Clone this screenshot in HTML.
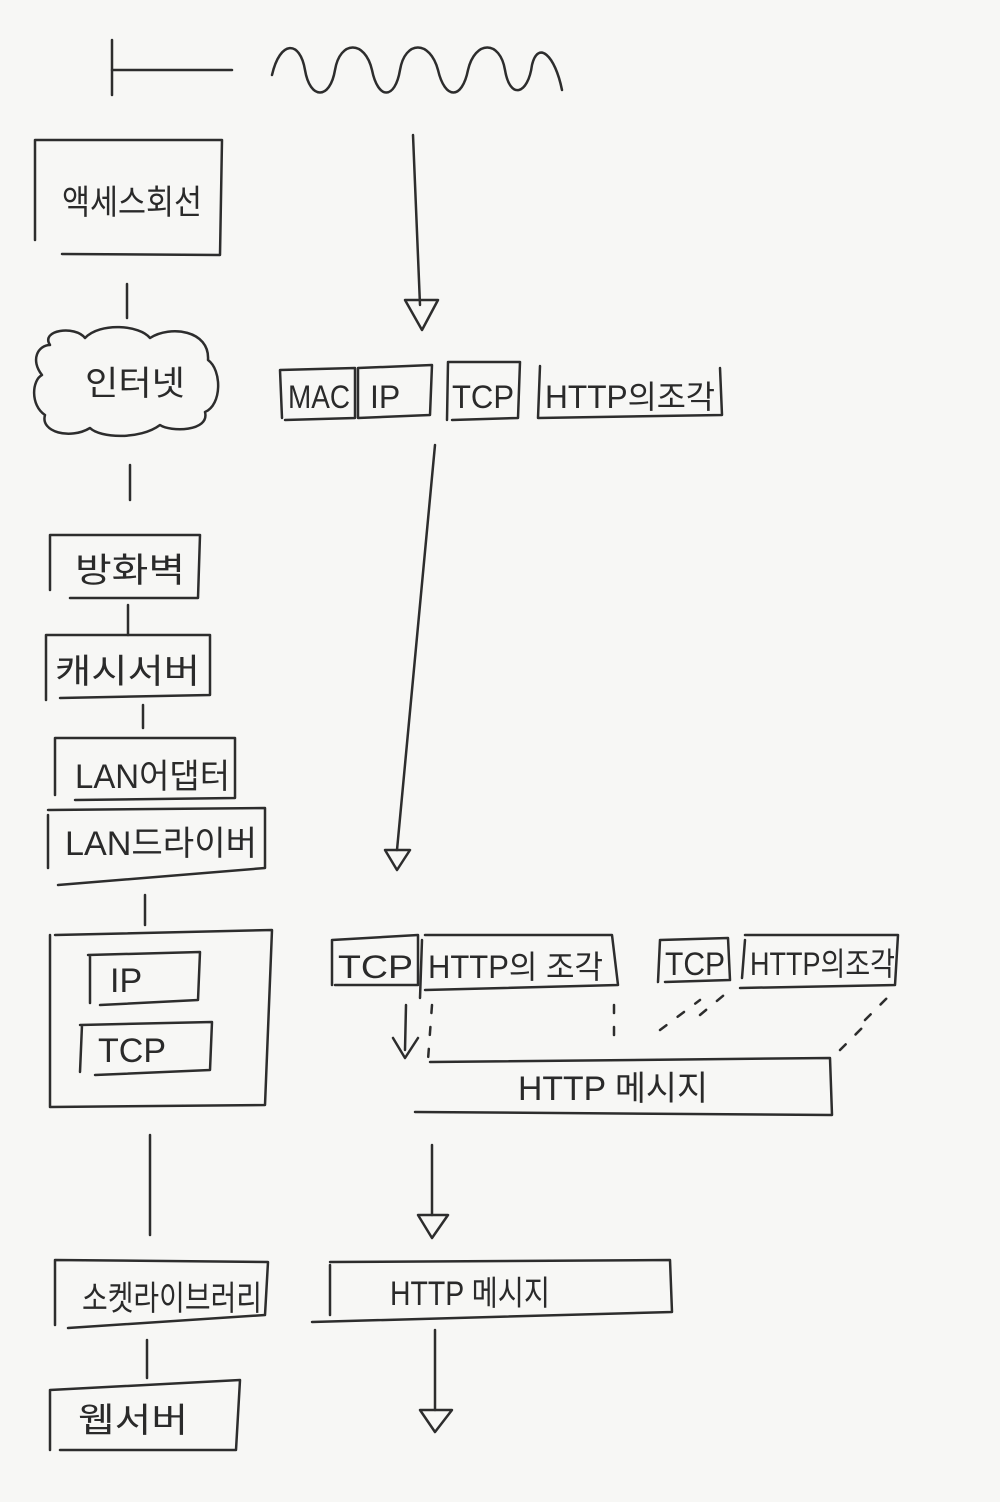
<!DOCTYPE html>
<html><head><meta charset="utf-8"><style>
html,body{margin:0;padding:0;background:#f7f7f5;}
svg{display:block}
text{font-family:"Liberation Sans","Noto Sans CJK KR",sans-serif;fill:#2a2a2a;}
</style></head><body>
<svg width="1000" height="1502" viewBox="0 0 1000 1502" xmlns="http://www.w3.org/2000/svg">
<rect width="1000" height="1502" fill="#f7f7f5"/>
<g stroke="#2d2d2d" stroke-width="2.5" fill="none" stroke-linecap="round" stroke-linejoin="round">
<line x1="112" y1="40" x2="112" y2="95"/>
<line x1="112" y1="70" x2="232" y2="70"/>
<path d="M272 75 C280 40,300 40,305 70 C310 100,330 100,335 70 C340 40,365 40,372 70 C378 100,395 100,400 70 C405 40,430 40,438 70 C445 100,462 100,468 70 C475 40,500 40,505 70 C510 100,528 95,532 65 C538 40,555 55,562 90"/>
<path d="M35 140 L35 240 M35 140 L222 140 L220 255 L62 254"/>
<line x1="127" y1="284" x2="127" y2="318"/>
<path d="M50 345 C40 330,75 325,85 338 C100 322,140 325,150 338 C170 325,210 330,208 360 C222 370,222 405,205 412 C210 432,170 432,160 425 C140 440,100 438,90 428 C70 440,40 432,45 415 C30 405,32 380,42 375 C30 360,38 345,50 345 Z"/>
<line x1="130" y1="465" x2="130" y2="500"/>
<path d="M50 535 L50 590 M50 535 L200 535 L198 598 L70 598"/>
<line x1="128" y1="605" x2="128" y2="635"/>
<path d="M46 635 L46 700 M46 635 L210 635 L210 695 L60 698"/>
<line x1="143" y1="705" x2="143" y2="728"/>
<path d="M55 738 L55 795 M55 738 L235 738 L235 798 L75 800"/>
<path d="M48 815 L48 868 M48 810 L265 808 L265 868 L58 885"/>
<line x1="145" y1="895" x2="145" y2="925"/>
<path d="M50 935 L50 1107 L265 1105 L272 930 L55 935"/>
<path d="M90 955 L90 1003 M88 955 L200 952 L198 1000 L100 1005"/>
<path d="M82 1025 L80 1072 M80 1025 L212 1022 L210 1070 L95 1075"/>
<line x1="150" y1="1135" x2="150" y2="1235"/>
<path d="M55 1260 L55 1325 M55 1260 L268 1262 L265 1315 L68 1328"/>
<line x1="147" y1="1340" x2="147" y2="1378"/>
<path d="M50 1390 L50 1450 M50 1390 L240 1380 L236 1450 L60 1450"/>
<line x1="413" y1="135" x2="420" y2="305"/>
<path d="M405 300 L422 330 L438 300 Z"/>
<path d="M280 370 L282 418 M280 370 L355 368 L355 418 L285 420"/>
<path d="M358 368 L432 365 L430 415 L358 418 Z"/>
<path d="M448 362 L447 420 M448 362 L520 362 L518 418 L452 420"/>
<path d="M540 366 L538 418 L722 415 L720 368"/>
<line x1="435" y1="445" x2="397" y2="850"/>
<path d="M385 850 L397 870 L410 850 Z"/>
<path d="M332 940 L332 985 M332 940 L418 935 L418 985 L335 985"/>
<path d="M422 940 L420 998 M425 935 L612 935 L618 985 L425 990"/>
<path d="M660 940 L658 982 M660 940 L728 938 L730 980 L665 982"/>
<path d="M745 940 L742 978 M745 935 L898 935 L895 985 L740 988"/>
<line x1="406" y1="1005" x2="405" y2="1050"/>
<path d="M393 1038 L405 1058 L418 1038"/>
<path stroke-dasharray="8 14" d="M432 1005 L428 1060 M614 1005 L614 1040 M660 1030 L700 1000 M700 1015 L730 990 M840 1050 L870 1020 M865 1020 L895 990"/>
<path d="M430 1062 L830 1058 L832 1115 L415 1112"/>
<line x1="432" y1="1145" x2="432" y2="1215"/>
<path d="M418 1215 L432 1238 L448 1215 Z"/>
<path d="M330 1265 L330 1315 M330 1262 L670 1260 L672 1312 L312 1322"/>
<line x1="435" y1="1330" x2="435" y2="1410"/>
<path d="M420 1410 L435 1432 L452 1410 Z"/>
</g>
<g font-size="34">
<text x="62" y="214" textLength="140" lengthAdjust="spacingAndGlyphs">액세스회선</text>
<text x="85" y="395" textLength="100" lengthAdjust="spacingAndGlyphs">인터넷</text>
<text x="75" y="582" textLength="110" lengthAdjust="spacingAndGlyphs">방화벽</text>
<text x="55" y="683" textLength="145" lengthAdjust="spacingAndGlyphs">캐시서버</text>
<text x="75" y="788" textLength="155" lengthAdjust="spacingAndGlyphs">LAN어댑터</text>
<text x="65" y="855" textLength="192" lengthAdjust="spacingAndGlyphs">LAN드라이버</text>
<text x="110" y="992">IP</text>
<text x="98" y="1062">TCP</text>
<text x="82" y="1310" textLength="180" lengthAdjust="spacingAndGlyphs">소켓라이브러리</text>
<text x="78" y="1432" textLength="110" lengthAdjust="spacingAndGlyphs">웹서버</text>
<text x="288" y="408" font-size="32" textLength="62" lengthAdjust="spacingAndGlyphs">MAC</text>
<text x="370" y="408" font-size="32">IP</text>
<text x="452" y="408" font-size="32" textLength="62" lengthAdjust="spacingAndGlyphs">TCP</text>
<text x="545" y="408" font-size="32" textLength="170" lengthAdjust="spacingAndGlyphs">HTTP의조각</text>
<text x="338" y="978" font-size="32" textLength="75" lengthAdjust="spacingAndGlyphs">TCP</text>
<text x="428" y="978" font-size="32" textLength="175" lengthAdjust="spacingAndGlyphs">HTTP의 조각</text>
<text x="665" y="975" font-size="32" textLength="60" lengthAdjust="spacingAndGlyphs">TCP</text>
<text x="750" y="975" font-size="32" textLength="145" lengthAdjust="spacingAndGlyphs">HTTP의조각</text>
<text x="518" y="1100" font-size="34" textLength="190" lengthAdjust="spacingAndGlyphs">HTTP 메시지</text>
<text x="390" y="1305" font-size="34" textLength="160" lengthAdjust="spacingAndGlyphs">HTTP 메시지</text>
</g>
</svg>
</body></html>
